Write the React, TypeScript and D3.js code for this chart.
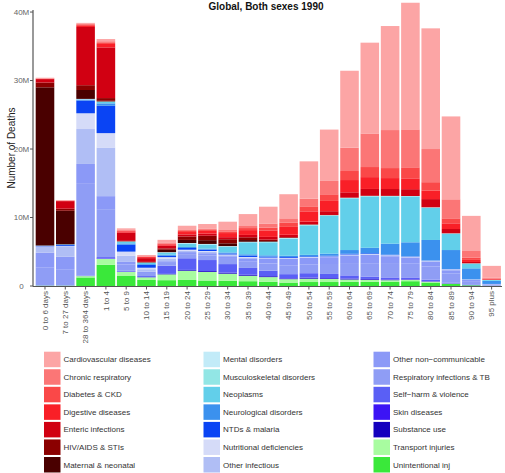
import React from "react";
import * as d3 from "d3";

const ageGroups = ["0 to 6 days","7 to 27 days","28 to 364 days","1 to 4","5 to 9","10 to 14","15 to 19","20 to 24","25 to 29","30 to 34","35 to 39","40 to 44","45 to 49","50 to 54","55 to 59","60 to 64","65 to 69","70 to 74","75 to 79","80 to 84","85 to 89","90 to 94","95 plus"];

// values in millions of deaths
const unintentional = [.05,.05,1.25,3.1,1.46,.88,.85,.88,.8,.75,.7,.6,.5,.58,.58,.6,.6,.6,.7,.5,.3,.1,.03];
const transport = [0,0,.2,.85,.6,.39,.85,1.35,1.25,1.05,.8,.7,.5,.49,.45,.35,.3,.25,.2,.15,.05,.01,0];
const substance = [0,0,0,.02,.02,.02,.05,.1,.12,.13,.12,.12,.1,.12,.1,.12,.1,.08,.05,.03,.01,0,0];
const skin = [0,0,.02,.05,.02,.02,.02,.02,.02,.02,.02,.02,.03,.03,.03,.03,.03,.04,.05,.05,.04,.02,.01];
const selfHarm = [.02,.02,.05,.2,.12,.14,1.2,1.7,1.6,1.25,1.0,.8,.6,.65,.6,.45,.35,.28,.25,.2,.1,.03,.01];
const respInf = [2.6,2.3,13.5,7.0,.9,.45,.4,.6,.65,.75,.9,1.05,1.3,1.3,1.45,1.8,1.95,2.1,2.0,1.9,1.3,.55,.17];
const otherNonComm = [2.2,1.9,2.8,1.9,.4,.2,.25,.3,.35,.4,.5,.7,.95,.94,1.0,1.1,1.2,1.0,.9,.7,.5,.2,.06];
const otherInf = [.9,1.45,5.1,7.1,.9,.35,.35,.2,.2,.15,.12,.1,.08,.07,.06,.1,.1,.1,.08,.12,.1,.04,.01];
const nutritional = [.02,.1,2.3,2.1,.6,.22,.25,.15,.12,.1,.08,.06,.05,.05,.05,.05,.05,.05,.05,.05,.05,.02,.01];
const ntds = [.05,.15,1.85,4.0,1.0,.4,.2,.25,.2,.15,.19,.13,.12,.1,.1,.1,.1,.08,.05,.03,.02,0,0];
const neurological = [.05,.1,.15,.35,.2,.12,.15,.15,.15,.15,.2,.2,.2,.22,.3,.55,.8,1.6,2.05,2.99,2.78,1.61,.45];
const neoplasms = [.02,.02,.05,.2,.25,.2,.3,.5,.6,.85,1.75,1.9,2.5,4.3,5.55,7.55,7.5,6.9,6.7,4.7,2.4,.7,.12];
const musculoskeletal = [0,0,0,.02,.02,.01,.02,.03,.03,.03,.03,.04,.04,.05,.05,.05,.05,.05,.04,.04,.02,.01,0];
const mental = [0,0,.05,.05,.02,.02,.05,.05,.05,.05,.05,.05,.04,.04,.03,.03,.03,.03,.02,.03,.02,.02,.01];
const maternal = [23.1,4.9,1.3,.1,0,.05,.35,.45,.55,.4,.25,.1,.02,.01,0,0,0,0,0,0,0,0,0];
const hiv = [.7,.3,.7,.4,.08,.05,.2,.5,.65,.6,.4,.2,.1,.05,.02,.02,.01,0,0,0,0,0,0];
const enteric = [.5,1.1,8.5,7.4,1.2,.55,.4,.3,.3,.3,.35,.4,.35,.4,.55,.78,1.0,1.0,1.0,1.2,.63,.2,.05];
const digestive = [.05,.05,.25,.5,.2,.15,.2,.35,.4,.6,.7,.95,1.15,1.5,1.5,1.79,1.73,1.6,1.58,1.22,.83,.3,.08];
const diabetes = [.02,.02,.05,.15,.08,.06,.1,.15,.15,.25,.3,.4,.6,.73,.97,1.32,1.47,1.46,1.61,1.25,.73,.35,.08];
const chronicResp = [.05,.03,.15,.25,.12,.08,.1,.15,.15,.29,.3,.6,.65,1.12,1.95,3.4,4.9,5.55,5.54,4.84,2.78,.95,.15];
const cardiovascular = [.08,.05,.15,.32,.23,.17,.45,.62,.71,1.12,1.74,2.46,3.52,5.45,7.5,11.24,13.26,15.19,18.49,17.62,12.1,5.13,1.7];

// legend order (top of stack first)
const causeNames = ["Cardiovascular diseases","Chronic respiratory","Diabetes & CKD","Digestive diseases","Enteric infections","HIV/AIDS & STIs","Maternal & neonatal","Mental disorders","Musculoskeletal disorders","Neoplasms","Neurological disorders","NTDs & malaria","Nutritional deficiencies","Other infectious","Other non\u2212communicable","Respiratory infections & TB","Self\u2212harm & violence","Skin diseases","Substance use","Transport injuries","Unintentional inj"];
const causeColors = ["#fca5a5","#fb7676","#fa4848","#f91f27","#d10012","#8b0000","#4a0000","#c2ebf8","#92e6e5","#62cfea","#3b91ee","#0a44f4","#d5dbf8","#b0bef5","#8b99f7","#8f9df5","#5a5ff5","#3c14f5","#1400be","#a8fca0","#3ae83a"];
const causeValues = [cardiovascular,chronicResp,diabetes,digestive,enteric,hiv,maternal,mental,musculoskeletal,neoplasms,neurological,ntds,nutritional,otherInf,otherNonComm,respInf,selfHarm,skin,substance,transport,unintentional];
const yTicks = [0,10,20,30,40];

export default function App() {
  const W = 505, H = 473;
  const keys = causeNames.slice().reverse(); // bottom to top
  const rows = ageGroups.map((age, i) => {
    const r: any = { age };
    causeNames.forEach((c, k) => { r[c] = causeValues[k][i]; });
    return r;
  });
  const series = d3.stack<any>().keys(keys)(rows);
  const x = d3.scaleBand<string>().domain(ageGroups).range([35.7, 500.9]).paddingInner(0.085).paddingOuter(0);
  const y = d3.scaleLinear().domain([0, 40.3]).range([286, 10]);
  const color = d3.scaleOrdinal<string, string>().domain(causeNames).range(causeColors);
  const font = "'Liberation Sans', Arial, Helvetica, sans-serif";
  const legendX = [44, 203.5, 373.5];
  return (
    <svg width={W} height={H} style={{ position: "absolute", left: 0, top: 0, background: "#fff" }} fontFamily={font}>
      <text x={266} y={10} textAnchor="middle" fontSize={10} fontWeight="bold" fill="#111">Global, Both sexes 1990</text>
      {series.map((s) => (
        <g key={s.key} fill={color(s.key)}>
          {s.map((d, i) => {
            const h = y(d[0]) - y(d[1]);
            if (h <= 0) return null;
            return <rect key={i} x={x(ageGroups[i])} y={y(d[1])} width={x.bandwidth()} height={h} />;
          })}
        </g>
      ))}
      {/* y axis */}
      <line x1={33} x2={33} y1={10} y2={286.5} stroke="#555" strokeWidth={1.2} />
      {yTicks.map((t) => (
        <g key={t}>
          <line x1={30} x2={33} y1={y(t)} y2={y(t)} stroke="#555" strokeWidth={1} />
          <text x={21.5} y={y(t)} dy="0.35em" textAnchor="middle" fontSize={8} fill="#666">{t === 0 ? "0" : t + "M"}</text>
        </g>
      ))}
      <text transform="translate(15,148) rotate(-90)" textAnchor="middle" fontSize={10} fill="#222">Number of Deaths</text>
      {/* x axis */}
      <line x1={33} x2={502} y1={286.5} y2={286.5} stroke="#555" strokeWidth={1.2} />
      {ageGroups.map((g) => {
        const cx = (x(g) as number) + x.bandwidth() / 2;
        return (
          <g key={g}>
            <line x1={cx} x2={cx} y1={286.5} y2={289.5} stroke="#555" strokeWidth={1} />
            <text transform={`translate(${cx},291) rotate(-90)`} dy="0.33em" textAnchor="end" fontSize={8} fill="#555">{g}</text>
          </g>
        );
      })}
      {/* legend */}
      {causeNames.map((c, k) => {
        const col = Math.floor(k / 7), row = k % 7;
        const lx = legendX[col], ly = 351.7 + row * 17.55;
        return (
          <g key={c}>
            <rect x={lx} y={ly} width={16.5} height={15.5} fill={color(c)} />
            <text x={lx + 19.5} y={ly + 7.75} dy="0.35em" fontSize={8} fill="#333">{c}</text>
          </g>
        );
      })}
    </svg>
  );
}
